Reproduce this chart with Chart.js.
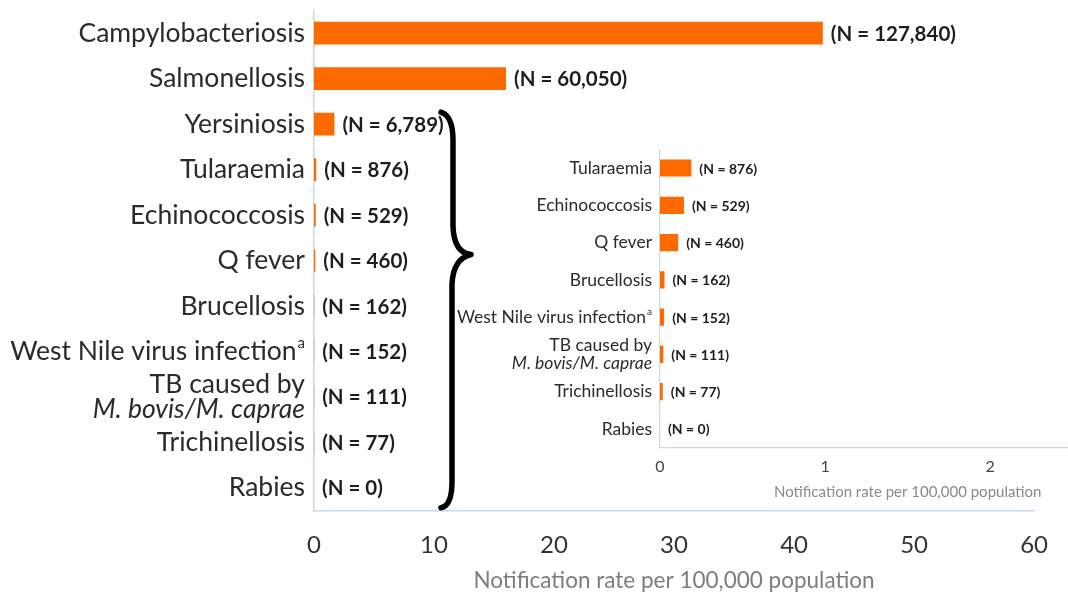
<!DOCTYPE html>
<html>
<head>
<meta charset="utf-8">
<script src="https://cdn.jsdelivr.net/npm/chart.js@4.4.1/dist/chart.umd.min.js"></script>
<style>
  html, body { margin: 0; padding: 0; background: #fff; overflow: hidden; }
  #wrap { position: relative; width: 1068px; height: 594px; overflow: hidden; }
  #mainChart { position: absolute; left: 0; top: 0; }
  #insetChart { position: absolute; left: 440px; top: 140px; }
</style>
</head>
<body>
<div id="wrap">
  <canvas id="mainChart" width="1068" height="594"></canvas>
  <canvas id="insetChart" width="730" height="365"></canvas>
</div>
<script>
// '^' marks a superscript footnote, second line of an array label is italic
const diseases = [
  'Campylobacteriosis', 'Salmonellosis', 'Yersiniosis', 'Tularaemia', 'Echinococcosis',
  'Q fever', 'Brucellosis', 'West Nile virus infection^a',
  ['TB caused by', 'M. bovis/M. caprae'], 'Trichinellosis', 'Rabies'
];
const rates = [42.4, 16.0, 1.7, 0.19, 0.145, 0.11, 0.027, 0.025, 0.02, 0.017, 0];
const cases = [127840, 60050, 6789, 876, 529, 460, 162, 152, 111, 77, 0];
const mainTicks = [0, 10, 20, 30, 40, 50, 60];
const insetTicks = [0, 1, 2, 3];
const axisTitle = 'Notification rate per 100,000 population';

// the inset repeats the small diseases on a wider scale
const insetFrom = 3;

const BAR = '#ff6a00';
const AXIS = '#c9d7ea';
Chart.defaults.font.family = 'Lato, sans-serif';

function caseText(n) {
  return '(N = ' + n.toLocaleString('en-US') + ')';
}

function labelPlugin(cfg) {
  return {
    id: 'labels',
    afterDraw(chart) {
      const { ctx, chartArea } = chart;
      const yScale = chart.scales.y;
      const meta = chart.getDatasetMeta(0);
      ctx.save();
      ctx.textBaseline = 'middle';
      chart.data.labels.forEach((label, i) => {
        const py = yScale.getPixelForValue(i);
        // category name
        ctx.fillStyle = cfg.color;
        ctx.textAlign = 'right';
        const lines = Array.isArray(label) ? label : [label];
        lines.forEach((line, j) => {
          const ly = py + (j - (lines.length - 1) / 2) * cfg.lineHeight;
          const font = (j > 0 ? 'italic ' : '') + cfg.size + 'px Lato';
          const [text, sup] = line.split('^');
          let right = chartArea.left - cfg.gap;
          if (sup) {
            ctx.font = Math.round(cfg.size * 0.55) + 'px Lato';
            ctx.fillText(sup, right, ly - cfg.size * 0.3);
            right -= ctx.measureText(sup).width + 1;
          }
          ctx.font = font;
          ctx.fillText(text, right, ly);
        });
        // case count after the bar
        const bar = meta.data[i];
        ctx.textAlign = 'left';
        ctx.fillStyle = '#1e1e1e';
        ctx.font = 'bold ' + cfg.nSize + 'px Lato';
        ctx.fillText(cfg.cases[i], bar.x + cfg.nGap, py + 1);
      });
      ctx.restore();
    }
  };
}

const bracePlugin = {
  id: 'brace',
  afterDraw(chart) {
    const { ctx } = chart;
    const y = chart.scales.y;
    const top = y.getPixelForValue(2) - 12;
    const bottom = y.getPixelForValue(10) + 20;
    const tip = top + (bottom - top) * 0.36;
    ctx.save();
    ctx.strokeStyle = '#000';
    ctx.lineWidth = 5.5;
    ctx.lineCap = 'round';
    ctx.lineJoin = 'round';
    ctx.beginPath();
    ctx.moveTo(441, top);
    ctx.quadraticCurveTo(453, top + 4, 453, top + 28);
    ctx.lineTo(453, tip - 28);
    ctx.quadraticCurveTo(454, tip - 2, 471, tip);
    ctx.quadraticCurveTo(453, tip + 4, 452, tip + 30);
    ctx.lineTo(452, bottom - 26);
    ctx.quadraticCurveTo(452, bottom - 2, 441, bottom);
    ctx.stroke();
    ctx.restore();
  }
};

new Chart(document.getElementById('mainChart'), {
  type: 'bar',
  data: {
    labels: diseases,
    datasets: [{
      data: rates,
      backgroundColor: BAR,
      barPercentage: 0.5,
      categoryPercentage: 1
    }]
  },
  options: {
    indexAxis: 'y',
    responsive: false,
    animation: false,
    layout: { padding: { top: 10.5, right: 31, left: 0, bottom: 0 } },
    plugins: { legend: { display: false }, tooltip: { enabled: false } },
    scales: {
      y: {
        ticks: { display: false },
        grid: { display: false, drawTicks: false },
        border: { display: true, color: AXIS, width: 1.5 },
        afterFit: (s) => { s.width = 314; }
      },
      x: {
        min: 0,
        max: 60,
        afterBuildTicks: (s) => { s.ticks = mainTicks.map((v) => ({ value: v })); },
        ticks: { font: { size: 24 }, color: '#333', padding: 20 },
        grid: { display: false, drawTicks: false },
        border: { display: true, color: AXIS, width: 1.5 },
        title: { display: true, text: axisTitle, color: '#7d7d7d', font: { size: 22.5 }, padding: { top: 0, bottom: 0 } },
        afterFit: (s) => { s.height = 83.5; }
      }
    }
  },
  plugins: [labelPlugin({
    color: '#2b2b2b', size: 26.5, lineHeight: 25, gap: 9,
    cases: cases.map(caseText), nSize: 20.5, nGap: 8
  }), bracePlugin]
});

new Chart(document.getElementById('insetChart'), {
  type: 'bar',
  data: {
    labels: diseases.slice(insetFrom),
    datasets: [{
      data: rates.slice(insetFrom),
      backgroundColor: BAR,
      barPercentage: 0.46,
      categoryPercentage: 1
    }]
  },
  options: {
    indexAxis: 'y',
    responsive: false,
    animation: false,
    layout: { padding: { top: 9.4, right: 12, left: 0, bottom: 0 } },
    plugins: { legend: { display: false }, tooltip: { enabled: false } },
    scales: {
      y: {
        ticks: { display: false },
        grid: { display: false, drawTicks: false },
        border: { display: true, color: AXIS, width: 1.2 },
        afterFit: (s) => { s.width = 220; }
      },
      x: {
        min: 0,
        max: 3,
        afterBuildTicks: (s) => { s.ticks = insetTicks.map((v) => ({ value: v })); },
        ticks: { font: { size: 16 }, color: '#444', padding: 10 },
        grid: { display: false, drawTicks: false },
        border: { display: true, color: AXIS, width: 1.2 },
        title: { display: true, text: axisTitle, color: '#8a8a8a', font: { size: 15 }, padding: { top: 0, bottom: 4 } },
        afterFit: (s) => { s.height = 57.4; }
      }
    }
  },
  plugins: [labelPlugin({
    color: '#2b2b2b', size: 17.5, lineHeight: 18, gap: 8,
    cases: cases.slice(insetFrom).map(caseText), nSize: 14, nGap: 8
  })]
});
</script>
</body>
</html>
